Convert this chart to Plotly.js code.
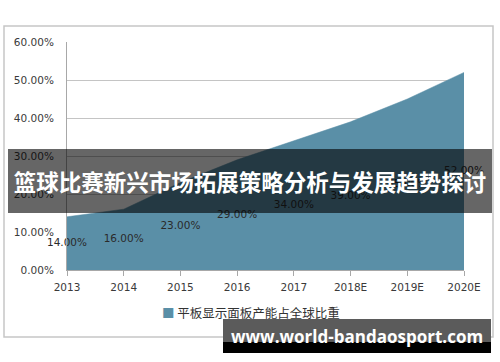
<!DOCTYPE html>
<html>
<head>
<meta charset="utf-8">
<script src="https://cdn.plot.ly/plotly-3.0.1.min.js"></script>
<style>html,body{margin:0;padding:0;background:#fff;}#chart{width:500px;height:362px;}</style>
</head>
<body>
<div id="chart"></div>
<script>
var categories = ['2013','2014','2015','2016','2017','2018E','2019E','2020E'];
var share = [0.14, 0.16, 0.23, 0.29, 0.34, 0.39, 0.45, 0.52];
var seriesName = '平板显示面板产能占全球比重';
var titleText = '篮球比赛新兴市场拓展策略分析与发展趋势探讨';
var watermarkText = 'www.world-bandaosport.com';
var yTickVals = [0, 0.1, 0.2, 0.3, 0.4, 0.5, 0.6];

var labelText = share.map(function(v){ return (v*100).toFixed(2) + '%'; });
var labelY = share.map(function(v){ return v/2; });

var L = 67, R = 464, T = 42, B = 270, W = 500, H = 362;
function px(x){ return (x - L) / (R - L); }
function py(y){ return (B - y) / (B - T); }

var blue = '#5a8fa7';
var tickFont = {family: 'DejaVu Sans', size: 10.5, color: '#3a3a3a'};

var traces = [
  {
    type: 'scatter', mode: 'lines', x: categories, y: share,
    fill: 'tozeroy', fillcolor: blue, line: {color: blue, width: 0.5},
    name: seriesName, showlegend: false, hoverinfo: 'skip'
  },
  {
    type: 'scatter', mode: 'text', x: categories, y: labelY,
    text: labelText, textposition: 'middle center', cliponaxis: false,
    textfont: {family: 'DejaVu Sans', size: 10.5, color: '#2a2a2a'},
    showlegend: false, hoverinfo: 'skip'
  }
];

var layout = {
  width: W, height: H,
  margin: {l: L, r: W - R, t: T, b: H - B, pad: 0},
  paper_bgcolor: '#ffffff', plot_bgcolor: '#ffffff',
  showlegend: false,
  xaxis: {
    type: 'category', range: [0, categories.length - 1],
    showgrid: false, zeroline: false,
    showline: true, linecolor: '#a8a8a8', linewidth: 1,
    ticks: 'outside', ticklen: 5, tickcolor: '#a8a8a8', tickwidth: 1,
    tickfont: tickFont, ticklabelstandoff: 2
  },
  yaxis: {
    range: [0, 0.6], tickvals: yTickVals, tickformat: '.2%',
    showgrid: true, gridcolor: '#c4c4c4', gridwidth: 1,
    zeroline: false, showline: true, linecolor: '#a8a8a8', linewidth: 1,
    ticks: '', tickfont: tickFont, ticklabelstandoff: 10
  },
  shapes: [
    {type: 'rect', xref: 'paper', yref: 'paper',
     x0: px(4), x1: px(493), y0: py(337), y1: py(26),
     line: {color: '#c6c6c6', width: 1.5}, fillcolor: 'rgba(0,0,0,0)', layer: 'below'}
  ],
  annotations: [
    {xref: 'paper', yref: 'paper', x: px(251), y: py(312), xanchor: 'center', yanchor: 'middle',
     showarrow: false,
     text: '<span style="color:' + blue + '">■</span> ' + seriesName,
     font: {family: 'Noto Sans CJK SC', size: 12.5, color: '#333333'}},
    {xref: 'paper', yref: 'paper', x: px(250), y: py(181), xanchor: 'center', yanchor: 'middle',
     showarrow: false, width: 484, height: 64, borderpad: 0, borderwidth: 0,
     bgcolor: 'rgba(0,0,0,0.6)',
     text: '<b>' + titleText + '</b>',
     font: {family: 'Noto Sans CJK SC', size: 22.5, color: '#ffffff'}},
    {xref: 'paper', yref: 'paper', x: px(357), y: py(330.5), xanchor: 'center', yanchor: 'middle',
     showarrow: false, width: 268, height: 23, borderpad: 0, borderwidth: 0,
     bgcolor: '#5b5b5b', text: ' '},
    {xref: 'paper', yref: 'paper', x: px(357), y: py(347.5), xanchor: 'center', yanchor: 'middle',
     showarrow: false, width: 268, height: 11, borderpad: 0, borderwidth: 0,
     bgcolor: '#000000', text: ' '},
    {xref: 'paper', yref: 'paper', x: px(357), y: py(336), xanchor: 'center', yanchor: 'middle',
     showarrow: false,
     text: '<b>' + watermarkText + '</b>',
     font: {family: 'Open Sans', size: 17, color: '#ffffff'}}
  ]
};

Plotly.newPlot('chart', traces, layout, {staticPlot: true, displayModeBar: false});
</script>
</body>
</html>
